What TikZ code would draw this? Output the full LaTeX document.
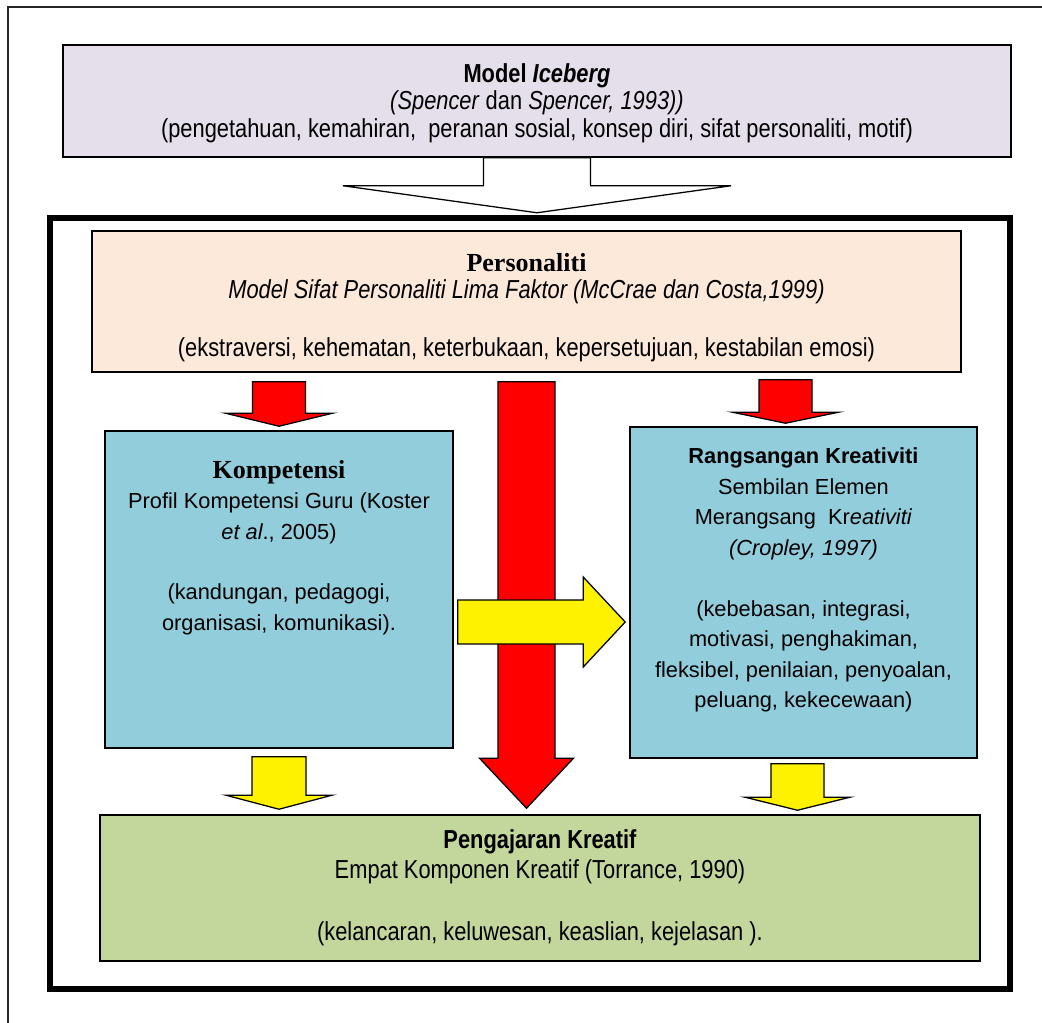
\documentclass[tikz,border=0pt]{standalone}
\usepackage{fontspec}
\setmainfont{Liberation Sans}
\newfontfamily\narrowfont{Liberation Sans}[FakeStretch=0.84]
\newfontfamily\timesfont{Liberation Serif}
\usetikzlibrary{calc, fit, positioning}

\definecolor{iceLilac}{RGB}{229,223,236}
\definecolor{personaPeach}{RGB}{253,233,217}
\definecolor{boxBlue}{RGB}{146,205,220}
\definecolor{ajarGreen}{RGB}{195,214,155}

% block arrow pointing down: fill, top, tip, shaft half, head half, head length
\newcommand{\blockdown}[6]{%
  \draw[blockarrow, fill=#1] ($(#2)+(-#4,0)$) -- ($(#2)+(#4,0)$)
    -- ($(#2 |- #3)+(#4,-#6)$) -- ($(#2 |- #3)+(#5,-#6)$) -- (#3)
    -- ($(#2 |- #3)+(-#5,-#6)$) -- ($(#2 |- #3)+(-#4,-#6)$) -- cycle;}
% block arrow pointing right: fill, tail, tip, shaft half, head half, head length
\newcommand{\blockright}[6]{%
  \draw[blockarrow, fill=#1] ($(#2)+(0,-#4)$) -- ($(#2 -| #3)+(-#6,-#4)$)
    -- ($(#2 -| #3)+(-#6,-#5)$) -- (#3) -- ($(#2 -| #3)+(-#6,#5)$)
    -- ($(#2 -| #3)+(-#6,#4)$) -- ($(#2)+(0,#4)$) -- cycle;}

\begin{document}
\begin{tikzpicture}[
        x=0.025cm, y=-0.025cm,
        box/.style={draw, line width=1.1pt, inner sep=0pt},
        blockarrow/.style={draw, line width=0.9pt, line join=miter},
        narrowtext/.style={align=center, font=\narrowfont\fontsize{18.5}{19.4}\selectfont},
        plaintext/.style={align=center, font=\fontsize{15.5}{21.7}\selectfont},
        titleserif/.style={font=\timesfont\bfseries\fontsize{18.5}{20}\selectfont}
    ]
        \useasboundingbox (0,0) rectangle (1042,1023);

        % page frame (cut at right and bottom)
        \draw[line width=1.3pt, black!85] (8,1023) -- (8,7) -- (1042,7);

        % Iceberg model
        \node (iceberg) [box, fill=iceLilac, fit={(63,45) (1011,157)}] {};
        \node (iceText) [narrowtext] at ([yshift=-0.05cm]iceberg.center)
            {\textbf{Model \textit{Iceberg}}\\
             \textit{(Spencer} dan \textit{Spencer, 1993))}\\
             (pengetahuan, kemahiran,\ \ peranan sosial, konsep diri, sifat personaliti, motif)};

        \coordinate (iceTip) at ($(iceberg.south)+(0,55)$);
        \blockdown{white}{iceberg.south}{iceTip}{53.5}{194}{27}

        % Thick frame
        \draw[line width=3.6pt] (50,218) rectangle (1010,989);

        % Personaliti
        \node (persona) [box, fill=personaPeach, fit={(92,231) (961,372)}] {};
        \node (personaText) [narrowtext] at ([yshift=-0.15cm]persona.center)
            {{\timesfont\bfseries\fontsize{18.5}{20}\selectfont Personaliti}\\
             \textit{Model Sifat Personaliti Lima Faktor (McCrae dan Costa,1999)}\\[22pt]
             (ekstraversi, kehematan, keterbukaan, kepersetujuan, kestabilan emosi)};

        % Kompetensi and Rangsangan
        \node (komp) [box, fill=boxBlue, fit={(105,431) (453,748)}] {};
        \node (kompText) [plaintext, anchor=north] at ([yshift=-0.62cm]komp.north)
            {{\timesfont\bfseries\fontsize{18.5}{20}\selectfont Kompetensi}\\
             Profil Kompetensi Guru (Koster\\
             \textit{et al}., 2005)\\[21.5pt]
             (kandungan, pedagogi,\\
             organisasi, komunikasi).};

        \node (rang) [box, fill=boxBlue, fit={(630,427) (977,758)}] {};
        \node (rangText) [plaintext, anchor=north] at ([yshift=-0.42cm]rang.north)
            {\textbf{Rangsangan Kreativiti}\\
             Sembilan Elemen\\
             Merangsang\ \ Kr\textit{eativiti}\\
             \textit{(Cropley, 1997)}\\[21.5pt]
             (kebebasan, integrasi,\\
             motivasi, penghakiman,\\
             fleksibel, penilaian, penyoalan,\\
             peluang, kekecewaan)};

        % Pengajaran Kreatif
        \node (ajar) [box, fill=ajarGreen, fit={(100,815) (980,961)}] {};
        \node (ajarText) [narrowtext, font=\narrowfont\fontsize{18.5}{21.3}\selectfont] at (ajar.center)
            {\textbf{Pengajaran Kreatif}\\
             Empat Komponen Kreatif (Torrance, 1990)\\[22.8pt]
             (kelancaran, keluwesan, keaslian, kejelasan ).};

        % Red arrows from Personaliti
        \coordinate (redLTop) at ($(persona.south -| komp.north)+(0,9)$);
        \coordinate (redLTip) at ($(komp.north)+(0,-4)$);
        \blockdown{red}{redLTop}{redLTip}{26.5}{53.5}{13}

        \coordinate (redMTop) at ($(persona.south)+(0,9)$);
        \coordinate (redMTip) at ($(ajar.north -| persona.south)+(0,-6)$);
        \blockdown{red}{redMTop}{redMTip}{28.5}{47}{50}

        \coordinate (redRTop) at ($(persona.south -| rang.north)+(-18,7)$);
        \coordinate (redRTip) at ($(rang.north)+(-18,-3)$);
        \blockdown{red}{redRTop}{redRTip}{26.5}{53}{11}

        % Yellow arrows
        \coordinate (yelHTail) at ($(komp.east)+(4,32.5)$);
        \coordinate (yelHTip) at ($(rang.west |- yelHTail)+(-4,0)$);
        \blockright{yellow}{yelHTail}{yelHTip}{22}{45}{42}

        \coordinate (yelLTop) at ($(komp.south)+(0,8)$);
        \coordinate (yelLTip) at ($(ajar.north -| komp.south)+(0,-5)$);
        \blockdown{yellow}{yelLTop}{yelLTip}{27}{53}{14}

        \coordinate (yelRTop) at ($(rang.south)+(-6,5)$);
        \coordinate (yelRTip) at ($(ajar.north -| yelRTop)+(0,-4)$);
        \blockdown{yellow}{yelRTop}{yelRTip}{26.5}{52.5}{13}

    \end{tikzpicture}
\end{document}
